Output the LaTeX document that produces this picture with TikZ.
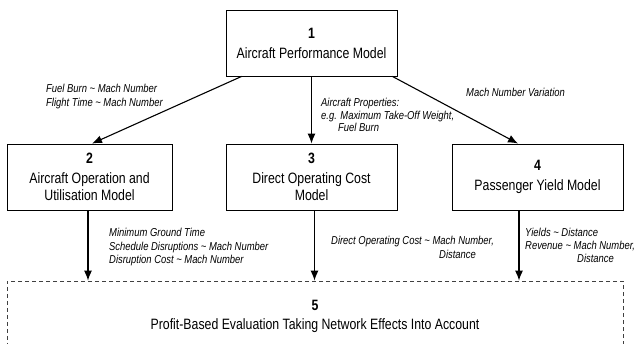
\documentclass[tikz,border=0pt]{standalone}
\usepackage{fontspec}
\setmainfont[FakeStretch=0.82]{Liberation Sans}
\usetikzlibrary{arrows.meta,calc}
\newcommand{\tld}{\textasciitilde}
\tikzset{
    model/.style={draw, line width=0.9pt, minimum width=171pt, minimum height=66pt,
        inner sep=0pt, align=center, font=\fontsize{15}{17}\selectfont},
    flow/.style={-{Latex[length=10pt,width=8pt]}, line width=1.1pt},
    note/.style={inner sep=0pt, anchor=north west, align=left,
        font=\fontsize{11.5}{13.5}\selectfont\itshape}
}

\begin{document}
\begin{tikzpicture}[x=1pt, y=-1pt]
            \useasboundingbox (0,0) rectangle (636,344);
            \node[model] (perf) at (311.5,43) {\textbf{1}\\[3pt]Aircraft Performance Model};
            \node[model, minimum width=165pt] (oper) at (89.5,177) {\textbf{2}\\[3pt]Aircraft Operation and\\Utilisation Model};
            \node[model] (cost) at (311.5,177) {\textbf{3}\\[3pt]Direct Operating Cost\\Model};
            \node[model] (yield) at (537.5,177) {\textbf{4}\\[3pt]Passenger Yield Model};
            \node[model, minimum width=616pt, minimum height=71pt, draw=black!75, line width=0.8pt,
                dash pattern=on 4pt off 3pt] (eval) at (315,316.5) {\textbf{5}\\[2pt]Profit-Based Evaluation Taking Network Effects Into Account};
            % connectors
            \draw[flow] ([xshift=16pt]perf.south west) -- ([xshift=2.5pt]oper.north);
            \draw[flow] (perf.south) -- (cost.north);
            \draw[flow] ([xshift=-5pt]perf.south east) -- ([xshift=-19.5pt]yield.north);
            \draw[flow] ([xshift=-1.5pt]oper.south) -- ([xshift=-1.5pt]oper.south |- eval.north);
            \draw[flow] ([xshift=3pt]cost.south) -- ([xshift=3pt]cost.south |- eval.north);
            \draw[flow] ([xshift=-18.5pt]yield.south) -- ([xshift=-18.5pt]yield.south |- eval.north);
            % labels
            \node[note] (n12) at (46,84) {Fuel Burn \tld{} Mach Number\\Flight Time \tld{} Mach Number};
            \node[note, font=\fontsize{11.5}{12.5}\selectfont\itshape] (n13) at (321,98) {Aircraft Properties:\\e.g. Maximum Take-Off Weight,\\\hspace*{17pt}Fuel Burn};
            \node[note] (n14) at (466,88) {Mach Number Variation};
            \node[note] (n25) at (109,228) {Minimum Ground Time\\Schedule Disruptions \tld{} Mach Number\\Disruption Cost \tld{} Mach Number};
            \node[note] (n35) at (331,236) {Direct Operating Cost \tld{} Mach Number,\\\hspace*{108pt}Distance};
            \node[note, font=\fontsize{11.5}{13}\selectfont\itshape] (n45) at (525,228) {Yields \tld{} Distance\\Revenue \tld{} Mach Number,\\\hspace*{52pt}Distance};
        \end{tikzpicture}
\end{document}
